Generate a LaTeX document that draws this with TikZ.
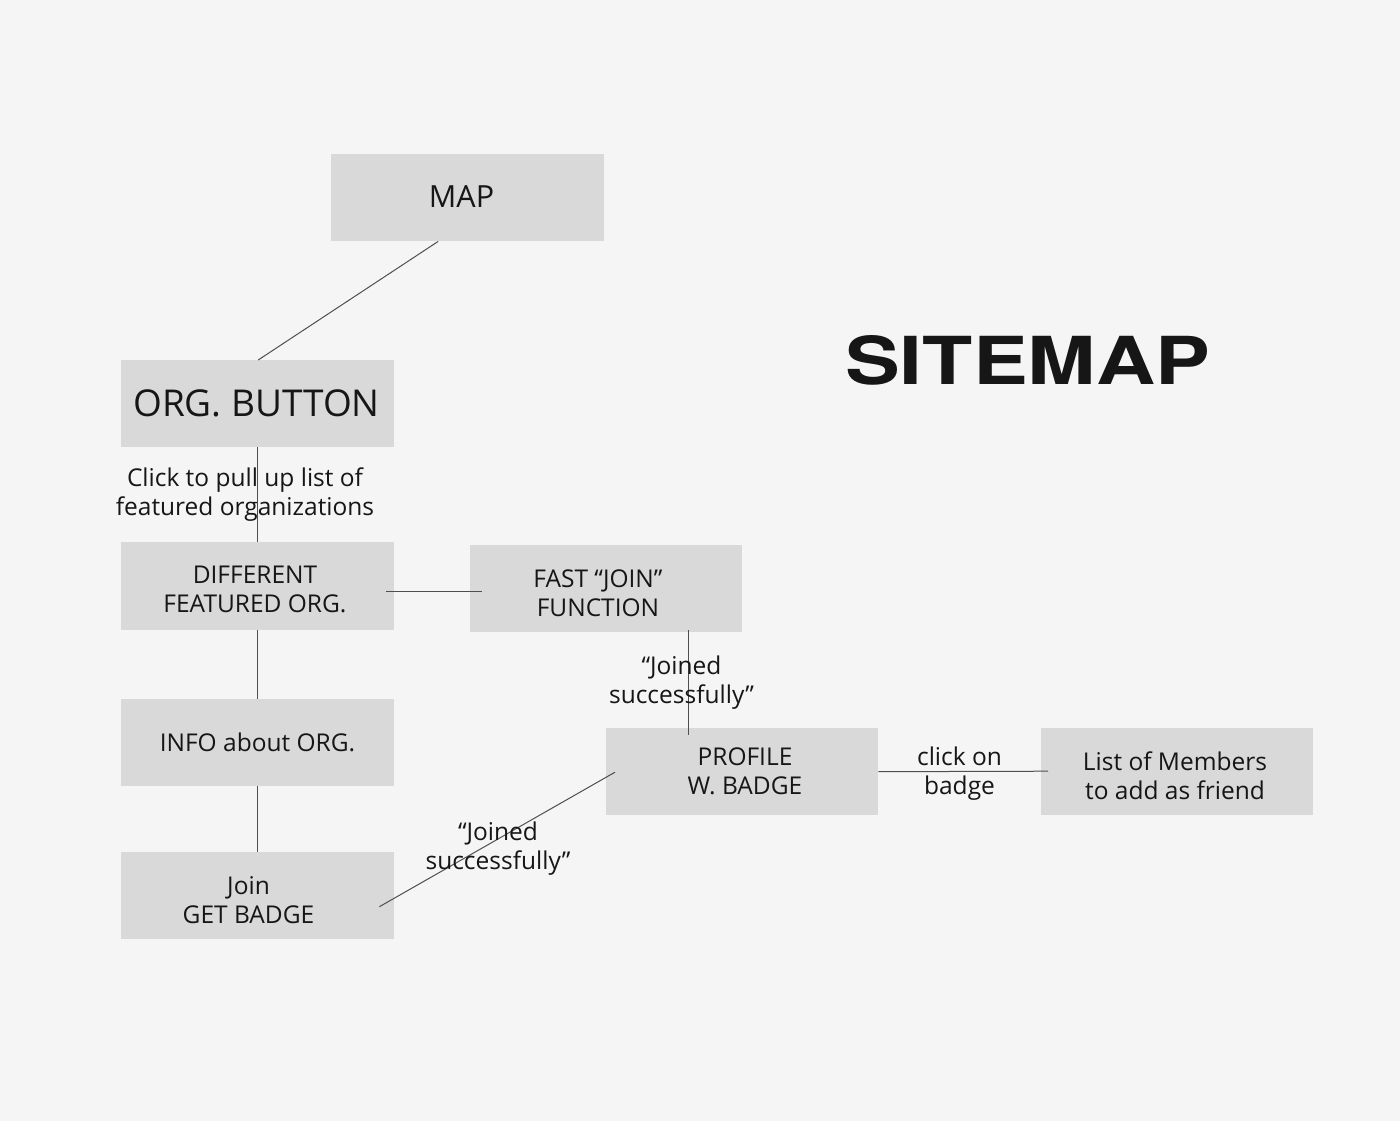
\documentclass[tikz,border=0pt]{standalone}
\usepackage{fontspec}
\setmainfont{Open Sans}
\newfontfamily\herosfont{TeX Gyre Heros}
\usetikzlibrary{calc}
\definecolor{bg}{HTML}{F5F5F5}
\definecolor{boxfill}{HTML}{D9D9D9}
\definecolor{ink}{HTML}{161616}
\definecolor{wire}{HTML}{4F4F4F}
\begin{document}
\begin{tikzpicture}[x=1pt,y=-1pt,
  box/.style={fill=boxfill, draw=none, minimum width=273pt, minimum height=87pt, inner sep=0pt, anchor=north west},
  btext/.style={text=ink, align=center, inner sep=0pt, anchor=base, font=\fontsize{24.5}{28.5}\selectfont},
  lbl/.style={btext},
  wire/.style={draw=wire, line width=1pt}
]
\fill[bg] (0,0) rectangle (1400,1121);
\useasboundingbox (0,0) rectangle (1400,1121);

% boxes
\node[box] (map)  at (331,154) {};
\node[box] (org)  at (121,360) {};
\node[box, minimum height=88pt] (diff) at (121,542) {};
\node[box, minimum width=272pt] (fast) at (470,545) {};
\node[box] (info) at (121,699) {};
\node[box] (join) at (121,852) {};
\node[box, minimum width=272pt] (prof) at (606,728) {};
\node[box, minimum width=272pt] (list) at (1041,728) {};

% connectors
\draw[wire] ($(map.south)+(-29.5,0)$) -- ($(org.north)+(0.5,0)$);
\draw[wire] ($(org.south)+(-0.5,0)$) -- ($(diff.north)+(-0.5,0)$);
\draw[wire] ($(diff.east)+(-8,5)$) -- ($(fast.west)+(12,2.5)$);
\draw[wire] ($(diff.south)+(-0.5,0)$) -- ($(info.north)+(-0.5,0)$);
\draw[wire] ($(info.south)+(-0.5,0)$) -- ($(join.north)+(-0.5,0)$);
\draw[wire] ($(fast.south)+(82,-2)$) -- ($(prof.north)+(-54,7)$);
\draw[wire] ($(join.east)+(-15,11)$) -- ($(prof.west)+(9,0.5)$);
\draw[wire] (prof.east) -- ($(list.west)+(7,-0.5)$);

% box texts (multi-line nodes: base anchor = last line)
\node[btext, font=\fontsize{30.5}{36}\selectfont] (mapt) at (461.5,207) {MAP};
\node[btext, font=\fontsize{37}{44}\selectfont] (orgt) at (256.5,416) {ORG. BUTTON};
\node[btext] (difft) at (255,612) {DIFFERENT\\FEATURED ORG.};
\node[btext] (fastt) at (598,616) {FAST “JOIN”\\FUNCTION};
\node[btext] (infot) at (257.5,751) {INFO about ORG.};
\node[btext] (joint) at (248.5,923) {Join\\GET BADGE};
\node[btext] (proft) at (745,794) {PROFILE\\W. BADGE};
\node[btext] (listt) at (1175,799) {List of Members\\to add as friend};

% connector labels
\node[lbl] (click) at (245,515) {Click to pull up list of\\featured organizations};
\node[lbl] (joined1) at (681.5,703) {“Joined\\successfully”};
\node[lbl] (joined2) at (498,869) {“Joined\\successfully”};
\node[lbl] (badge) at (959.5,794) {click on\\badge};

% title
\node[text=ink, inner sep=0pt, anchor=base west] (title) at (845,384)
  {\resizebox{365pt}{49pt}{\herosfont\bfseries SITEMAP}};
\end{tikzpicture}
\end{document}
